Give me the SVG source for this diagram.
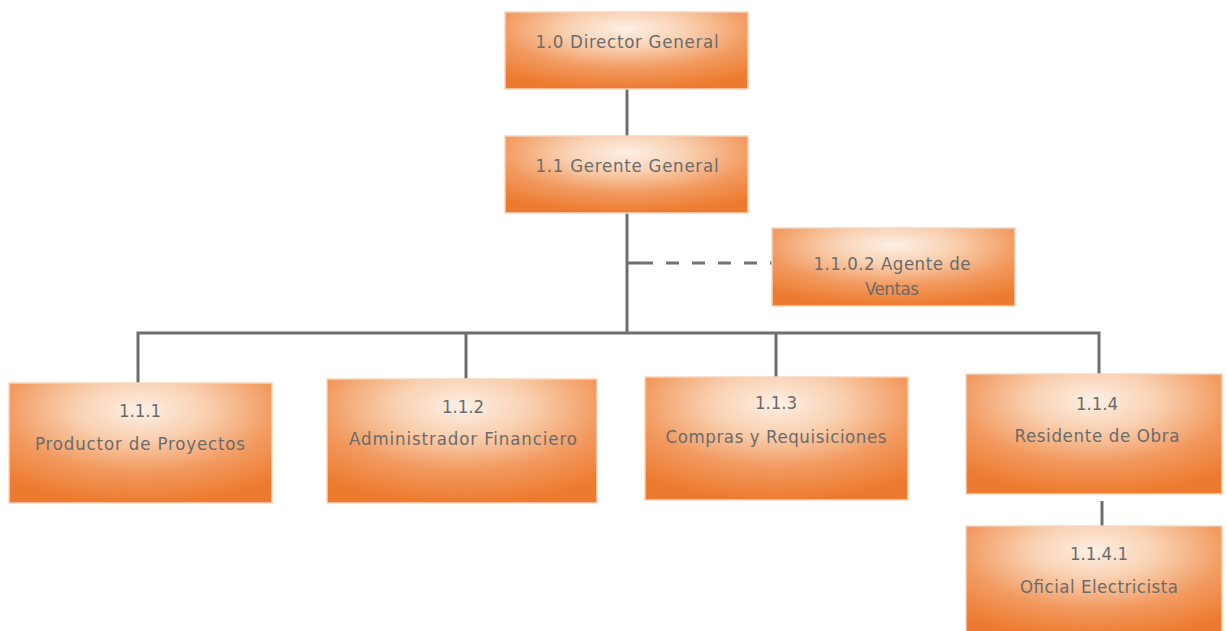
<svg xmlns="http://www.w3.org/2000/svg" width="1227" height="631" viewBox="0 0 1227 631">
  <defs>
    <radialGradient id="boxFill" cx="0.5" cy="0.22" r="0.78" fx="0.5" fy="0.22">
      <stop offset="0" stop-color="#fdf0e6"/>
      <stop offset="0.32" stop-color="#f9d0b0"/>
      <stop offset="0.66" stop-color="#f29a60"/>
      <stop offset="1" stop-color="#ed7b2f"/>
    </radialGradient>
  </defs>
  <style>
    .box { fill: url(#boxFill); stroke: #f7d5bd; stroke-width: 1.5; }
    .lbl { font-family: "Liberation Sans Narrow", "DejaVu Sans Condensed", "Liberation Sans", sans-serif; font-size: 18.5px; fill: #6b6b6b; text-anchor: middle; }
    .link { fill: none; stroke: #6e6e6e; stroke-width: 3; }
    .dash { fill: none; stroke: #737373; stroke-width: 3; stroke-dasharray: 13 13; }
  </style>

  <rect width="1227" height="631" fill="#ffffff"/>

  <!-- connectors -->
  <g id="connectors">
    <line class="link" x1="627" y1="89" x2="627" y2="136"/>
    <line class="link" x1="627" y1="213" x2="627" y2="333"/>
    <line class="dash" x1="640" y1="263" x2="772" y2="263"/>
    <line class="link" x1="627" y1="263" x2="640" y2="263"/>
    <polyline class="link" points="138,383 138,333 1099,333 1099,374"/>
    <line class="link" x1="466" y1="333" x2="466" y2="379"/>
    <line class="link" x1="776" y1="333" x2="776" y2="377"/>
    <line class="link" x1="1102" y1="501" x2="1102" y2="526"/>
  </g>

  <g id="n1-0">
    <rect class="box" x="505" y="12" width="243" height="77"/>
    <text class="lbl" x="627" y="48" textLength="183" lengthAdjust="spacing">1.0 Director General</text>
  </g>

  <g id="n1-1">
    <rect class="box" x="505" y="136" width="243" height="77"/>
    <text class="lbl" x="627" y="172" textLength="183" lengthAdjust="spacing">1.1 Gerente General</text>
  </g>

  <g id="n1-1-0-2">
    <rect class="box" x="772" y="228" width="243" height="78"/>
    <text class="lbl" x="892" y="270" textLength="157" lengthAdjust="spacing">1.1.0.2 Agente de</text>
    <text class="lbl" x="892" y="295" textLength="54" lengthAdjust="spacing">Ventas</text>
  </g>

  <g id="n1-1-1">
    <rect class="box" x="9" y="383" width="263" height="120"/>
    <text class="lbl" x="140" y="417" textLength="42" lengthAdjust="spacing">1.1.1</text>
    <text class="lbl" x="140" y="450" textLength="210" lengthAdjust="spacing">Productor de Proyectos</text>
  </g>

  <g id="n1-1-2">
    <rect class="box" x="327" y="379" width="270" height="124"/>
    <text class="lbl" x="463" y="413" textLength="42" lengthAdjust="spacing">1.1.2</text>
    <text class="lbl" x="463" y="445" textLength="228" lengthAdjust="spacing">Administrador Financiero</text>
  </g>

  <g id="n1-1-3">
    <rect class="box" x="645" y="377" width="263" height="123"/>
    <text class="lbl" x="776" y="409" textLength="42" lengthAdjust="spacing">1.1.3</text>
    <text class="lbl" x="776" y="443" textLength="221" lengthAdjust="spacing">Compras y Requisiciones</text>
  </g>

  <g id="n1-1-4">
    <rect class="box" x="966" y="374" width="256" height="120"/>
    <text class="lbl" x="1097" y="410" textLength="42" lengthAdjust="spacing">1.1.4</text>
    <text class="lbl" x="1097" y="442" textLength="165" lengthAdjust="spacing">Residente de Obra</text>
  </g>

  <g id="n1-1-4-1">
    <rect class="box" x="966" y="526" width="256" height="112"/>
    <text class="lbl" x="1099" y="560" textLength="58" lengthAdjust="spacing">1.1.4.1</text>
    <text class="lbl" x="1099" y="593" textLength="158" lengthAdjust="spacing">Oficial Electricista</text>
  </g>
</svg>
